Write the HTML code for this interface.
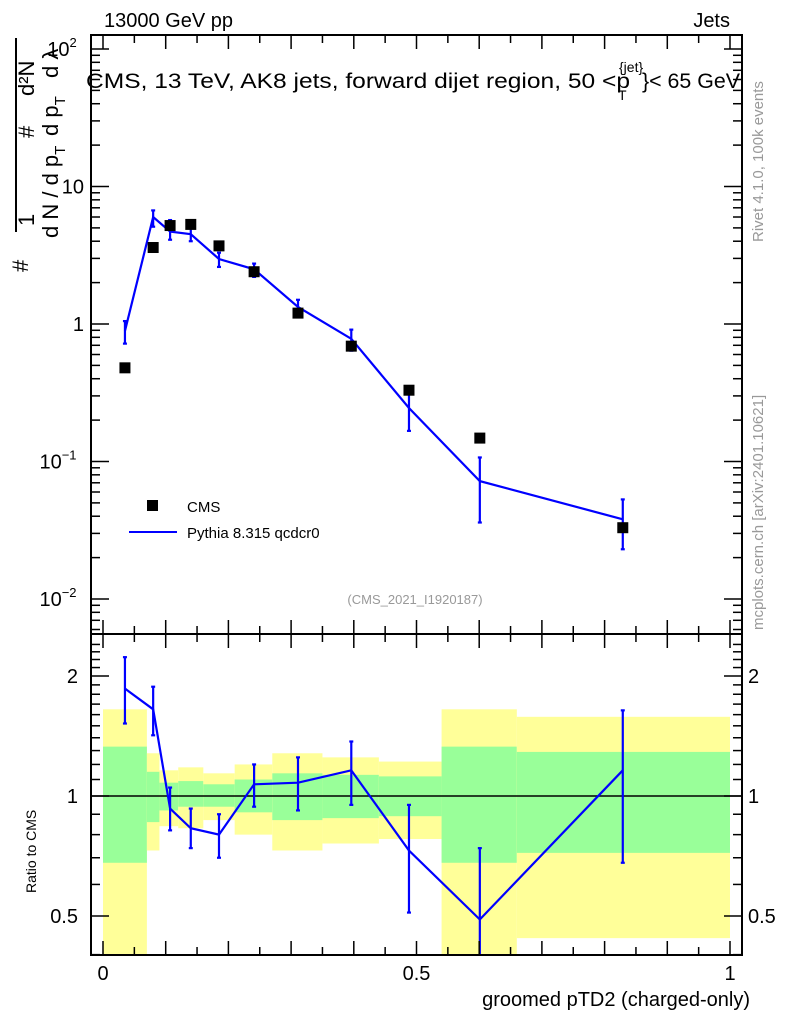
<!DOCTYPE html>
<html><head><meta charset="utf-8"><style>
html,body{margin:0;padding:0;background:#fff;}
svg{display:block;font-family:"Liberation Sans",sans-serif;}
</style></head><body>
<svg id="chart" width="786" height="1024" viewBox="0 0 786 1024" xmlns="http://www.w3.org/2000/svg">
<g id="bands"></g>
<g id="marks"></g>
<g id="axes"></g>
<text x="104" y="27" font-size="20">13000 GeV pp</text>
<text x="730" y="27" font-size="20" text-anchor="end">Jets</text>
<text x="86" y="88" font-size="21" textLength="544" lengthAdjust="spacingAndGlyphs">CMS, 13 TeV, AK8 jets, forward dijet region, 50 &lt;p</text>
<text x="619" y="72" font-size="14">{jet}</text>
<text x="618" y="100" font-size="14">T</text>
<text x="642" y="88" font-size="21" textLength="98" lengthAdjust="spacingAndGlyphs">}&lt; 65 GeV</text>
<text x="415" y="604" font-size="13" fill="#999" text-anchor="middle">(CMS_2021_I1920187)</text>
<text transform="translate(763,242) rotate(-90)" font-size="15" fill="#999">Rivet 4.1.0,  100k events</text>
<text transform="translate(763,630) rotate(-90)" font-size="15" fill="#999">mcplots.cern.ch [arXiv:2401.10621]</text>
<g font-size="22">
<text transform="translate(28,272) rotate(-90)">#</text>
<line x1="16" y1="232" x2="16" y2="38" stroke="#000" stroke-width="2"/>
<text transform="translate(34,226) rotate(-90)">1</text>
<text transform="translate(58,238) rotate(-90)">d N / d p<tspan font-size="15" dy="7">T</tspan></text>
<text transform="translate(34,138) rotate(-90)">#</text>
<text transform="translate(58,136) rotate(-90)">d p<tspan font-size="15" dy="7">T</tspan></text>
<text transform="translate(58,78) rotate(-90)">d λ</text>
<text transform="translate(34,96) rotate(-90)">d²N</text>
</g>
<g>
<rect x="147" y="500" width="11" height="11" fill="#000"/>
<text x="187" y="512" font-size="15">CMS</text>
<line x1="129" y1="532" x2="177" y2="532" stroke="#00f" stroke-width="2"/>
<text x="187" y="538" font-size="15">Pythia 8.315 qcdcr0</text>
</g>
<text transform="translate(36,893) rotate(-90)" font-size="14">Ratio to CMS</text>
<text x="750" y="1006" font-size="20" text-anchor="end">groomed pTD2 (charged-only)</text>
</svg>
<script>
const xs=[0.035,0.080,0.107,0.140,0.185,0.241,0.311,0.396,0.488,0.601,0.829];
const cmsVals=[0.48,3.6,5.2,5.3,3.7,2.4,1.2,0.69,0.33,0.148,0.033];
const mcVals=[0.89,6.0,4.7,4.5,2.97,2.5,1.33,0.78,0.245,0.072,0.038];
const mcUp=[1.05,6.7,5.7,5.3,3.3,2.75,1.5,0.91,0.35,0.107,0.053];
const mcDn=[0.72,5.1,4.1,4.0,2.6,2.2,1.12,0.64,0.167,0.036,0.023];
const ratioVals=[1.86,1.65,0.93,0.83,0.80,1.07,1.08,1.16,0.73,0.49,1.16];
const ratioUp=[2.23,1.88,1.05,0.93,0.90,1.20,1.25,1.37,0.95,0.74,1.64];
const ratioDn=[1.52,1.42,0.82,0.74,0.70,0.94,0.92,0.95,0.51,0.30,0.68];
const binEdges=[0,0.07,0.09,0.12,0.16,0.21,0.27,0.35,0.44,0.54,0.66,1.0];
const yelHi=[1.65,1.28,1.16,1.18,1.14,1.20,1.28,1.25,1.22,1.65,1.58];
const yelLo=[0.30,0.73,0.84,0.83,0.87,0.80,0.73,0.76,0.78,0.30,0.44];
const grnHi=[1.33,1.15,1.08,1.09,1.07,1.10,1.14,1.13,1.12,1.33,1.29];
const grnLo=[0.68,0.86,0.92,0.94,0.94,0.91,0.87,0.88,0.89,0.68,0.72];
const xTicks=[0,0.5,1];
const xTickLabels=["0","0.5","1"];
const yTicks=[-2,-1,0,1,2];
const yTickLabels=["10","10","1","10","10"];
const yTickExp=["−2","−1","","","2"];
const rTicks=[0.5,1,2];
const rTickLabels=["0.5","1","2"];

const L=91,R=742,T=35,D=634,B=955;
const NS="http://www.w3.org/2000/svg";
const sx=v=>103+v*627;
const sy=v=>324-137.5*Math.log10(v);
const sr=v=>796-120*Math.log2(v);
const cr=y=>Math.max(D,Math.min(B,y));
function el(tag,attrs,parent){const e=document.createElementNS(NS,tag);for(const k in attrs)e.setAttribute(k,attrs[k]);parent.appendChild(e);return e;}
const bands=document.getElementById('bands'),marks=document.getElementById('marks'),axes=document.getElementById('axes');

for(let i=0;i<yelHi.length;i++){
  const x0=sx(binEdges[i]),x1=sx(binEdges[i+1]);
  let y0=cr(sr(yelHi[i])),y1=cr(sr(yelLo[i]));
  const r=el('rect',{x:x0,y:y0,width:x1-x0,height:y1-y0,fill:'#ffff99'},bands);
  
  
  y0=cr(sr(grnHi[i]));y1=cr(sr(grnLo[i]));
  const g=el('rect',{x:x0,y:y0,width:x1-x0,height:y1-y0,fill:'#99ff99'},bands);
  
  
}
const one=el('line',{x1:L,x2:R,y1:sr(1),y2:sr(1),stroke:'#000','stroke-width':1.5},marks);



const pl=el('polyline',{points:xs.map((x,i)=>sx(x)+','+sy(mcVals[i])).join(' '),fill:'none',stroke:'#00f','stroke-width':2.2},marks);


xs.forEach((x,i)=>{
  const g=el('g',{stroke:'#00f','stroke-width':2.2},marks);
  
  
  const X=sx(x),y1=sy(mcUp[i]),y2=sy(mcDn[i]);
  el('line',{x1:X,x2:X,y1:y1,y2:y2},g);
  el('line',{x1:X-2,x2:X+2,y1:y1,y2:y1},g);
  el('line',{x1:X-2,x2:X+2,y1:y2,y2:y2},g);
});
xs.forEach((x,i)=>{
  const r=el('rect',{x:sx(x)-5.5,y:sy(cmsVals[i])-5.5,width:11,height:11,fill:'#000'},marks);
  
  
});
const rl=el('polyline',{points:xs.map((x,i)=>sx(x)+','+cr(sr(ratioVals[i]))).join(' '),fill:'none',stroke:'#00f','stroke-width':2.2},marks);


xs.forEach((x,i)=>{
  const g=el('g',{stroke:'#00f','stroke-width':2.2},marks);
  
  
  const X=sx(x),y1=cr(sr(ratioUp[i])),y2=cr(sr(ratioDn[i]));
  el('line',{x1:X,x2:X,y1:y1,y2:y2},g);
  if(y1>D) el('line',{x1:X-2,x2:X+2,y1:y1,y2:y1},g);
  if(y2<B) el('line',{x1:X-2,x2:X+2,y1:y2,y2:y2},g);
});

[[T,D,'main-frame'],[D,B,'ratio-frame']].forEach(([a,b,n])=>{
  const f=el('rect',{x:L,y:a,width:R-L,height:b-a,fill:'none',stroke:'#000','stroke-width':2},axes);
  
  
});
for(let k=0;k<=20;k++){
  const v=k*0.05,x=sx(v),len=(k%2==0)?14:8;
  [[T,1],[D,1],[D,-1],[B,-1]].forEach(([y,s])=>el('line',{x1:x,x2:x,y1:y,y2:y+s*len,stroke:'#000','stroke-width':1.5},axes));
}
xTicks.forEach((v,i)=>{
  const t=el('text',{x:sx(v),y:980,'font-size':20,'text-anchor':'middle'},axes);
  t.textContent=xTickLabels[i];
  
  
});
for(let d=-3;d<=2;d++){
  for(let m=1;m<10;m++){
    const y=sy(m*Math.pow(10,d));
    if(y<T||y>D) continue;
    const len=m==1?18:9;
    el('line',{x1:L,x2:L+len,y1:y,y2:y,stroke:'#000','stroke-width':1.5},axes);
    el('line',{x1:R,x2:R-len,y1:y,y2:y,stroke:'#000','stroke-width':1.5},axes);
  }
}
yTicks.forEach((d,i)=>{
  const t=el('text',{x:yTickExp[i]?(d<0?58:62):84,y:sy(Math.pow(10,d))+7,'font-size':20,'text-anchor':yTickExp[i]?'middle':'end'},axes);
  t.textContent=yTickLabels[i];
  if(yTickExp[i]){const s=document.createElementNS(NS,'tspan');s.setAttribute('font-size',13);s.setAttribute('dy',-9);s.textContent=yTickExp[i];t.appendChild(s);}
  
  
});
for(let k=4;k<=24;k++){
  const v=k/10,y=sr(v);
  if(y<D||y>B) continue;
  const len=(k==5||k==10||k==20)?18:9;
  el('line',{x1:L,x2:L+len,y1:y,y2:y,stroke:'#000','stroke-width':1.5},axes);
  el('line',{x1:R,x2:R-len,y1:y,y2:y,stroke:'#000','stroke-width':1.5},axes);
}
rTicks.forEach((v,i)=>{
  const t=el('text',{x:78,y:sr(v)+7,'font-size':20,'text-anchor':'end'},axes);
  t.textContent=rTickLabels[i];
  
  
  const t2=el('text',{x:748,y:sr(v)+7,'font-size':20},axes);
  t2.textContent=rTickLabels[i];
  
  
});
</script>
</body></html>
